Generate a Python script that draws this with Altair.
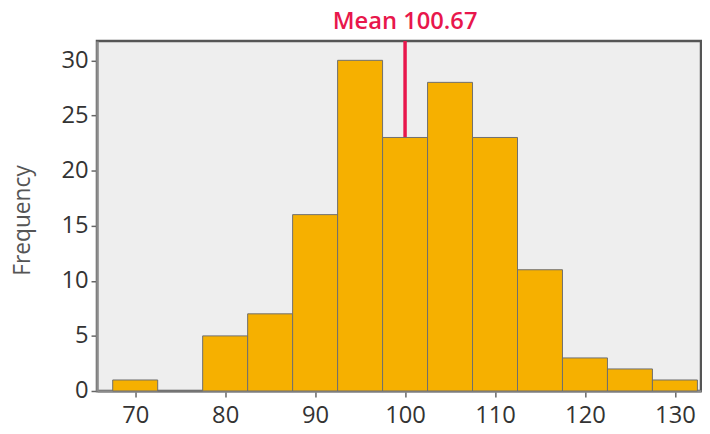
import altair as alt
import pandas as pd

bin_start = [67.5, 72.5, 77.5, 82.5, 87.5, 92.5, 97.5, 102.5, 107.5, 112.5, 117.5, 122.5, 127.5]
bin_end = [72.5, 77.5, 82.5, 87.5, 92.5, 97.5, 102.5, 107.5, 112.5, 117.5, 122.5, 127.5, 132.5]
counts = [1, 0, 5, 7, 16, 30, 23, 28, 23, 11, 3, 2, 1]
x_ticks = [70, 80, 90, 100, 110, 120, 130]
y_ticks = [0, 5, 10, 15, 20, 25, 30]
mean_pos = [100.0]
mean_label = ["Mean 100.67"]

df = pd.DataFrame({"start": bin_start, "end": bin_end, "count": counts})
mean_df = pd.DataFrame({"x": mean_pos, "label": mean_label})

FONT = "Open Sans"
RED = "#e8174c"

xscale = alt.Scale(domain=[65.75, 132.9], nice=False, zero=False)
yscale = alt.Scale(domain=[0, 31.75], nice=False)

bars = alt.Chart(df).mark_bar(
    color="#f6b000", stroke="#6e6e6e", strokeWidth=1
).encode(
    x=alt.X("start:Q", scale=xscale,
            axis=alt.Axis(values=x_ticks, title=None, labelBaseline="alphabetic",
                          labelPadding=26, labelFlush=False, labelOverlap=False)),
    x2="end:Q",
    y=alt.Y("count:Q", scale=yscale,
            axis=alt.Axis(values=y_ticks, title="Frequency", labelPadding=3,
                          titleX=-75, titleY=181, titleAngle=270,
                          titleAlign="center", titleBaseline="middle")),
    y2=alt.datum(0),
)

rule = alt.Chart(mean_df).mark_rule(color=RED, strokeWidth=3.5).encode(
    x=alt.X("x:Q", scale=xscale, title=None),
)

text = alt.Chart(mean_df).mark_text(
    color=RED, font=FONT, fontSize=24, fontWeight=600, baseline="alphabetic", align="center"
).encode(
    x=alt.X("x:Q", scale=xscale, title=None),
    y=alt.value(-12),
    text="label:N",
)

chart = alt.layer(rule, bars, text).properties(
    width=611, height=354,
    autosize=alt.AutoSizeParams(type="none"),
    padding={"left": 90, "top": 31, "right": 1, "bottom": 33},
).configure_view(
    fill="#eeeeee", stroke="#555555", strokeWidth=2.5
).configure_axis(
    labelFont=FONT, labelFontSize=24, labelColor="#333333",
    titleFont=FONT, titleFontSize=23, titleFontWeight="normal", titleColor="#555555",
    tickColor="#666666", tickSize=6, tickWidth=1.5,
    domainColor="#8c8c8c", domainWidth=2.5, grid=False,
)

chart.save("out.html", embed_options={"renderer": "svg", "actions": False})
